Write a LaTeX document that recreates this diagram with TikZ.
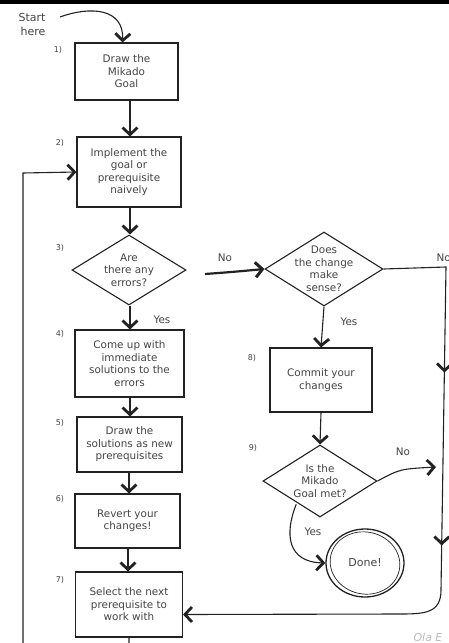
\documentclass[tikz,border=0pt]{standalone}
\usepackage{fontspec}
\setmainfont{DejaVu Sans}
\usetikzlibrary{arrows.meta,shapes.geometric,decorations.markings,calc}
\definecolor{ink}{HTML}{222222}
\definecolor{txt}{HTML}{444444}
\definecolor{faint}{HTML}{BBBBBB}
\begin{document}
\begin{tikzpicture}[x=1pt,y=-1pt,
  barb/.tip={Straight Barb[length=7pt,width=15pt,line width=2.8pt]},
  box/.style={draw=ink, line width=1.1pt, rectangle, align=center, text=txt, font=\fontsize{10.4}{12.5}\selectfont, inner sep=1pt},
  dia/.style={draw=ink, line width=1.1pt, diamond, inner sep=0pt},
  lbl/.style={text=txt, font=\fontsize{10.4}{12.5}\selectfont, align=center},
  num/.style={text=txt, font=\fontsize{8}{9}\selectfont},
  arr/.style={draw=ink, line width=1.1pt, -barb},
  ln/.style={draw=ink, line width=1.1pt}]
\useasboundingbox (0,0) rectangle (449,643);
\fill[black] (0,0) rectangle (449,3.5);

% start
\node[lbl, align=right, font=\fontsize{11}{14}\selectfont] (start) at (32,24) {Start\\here};
\coordinate (st) at (60,17);

% boxes
\node[box, minimum width=103pt, minimum height=57pt] (b1) at (126.5,71.5) {Draw the\\Mikado\\Goal};
\node[box, minimum width=104pt, minimum height=70pt] (b2) at (129,172) {Implement the\\goal or\\prerequisite\\naively};
\node[dia, minimum width=114pt, minimum height=70pt] (d3) at (129,270) {};
\node[lbl] at (d3.center) {Are\\there any\\errors?};
\node[box, minimum width=109pt, minimum height=67pt] (b4) at (129.5,363.5) {Come up with\\immediate\\solutions to the\\errors};
\node[box, minimum width=105pt, minimum height=55pt] (b5) at (129.5,444.5) {Draw the\\solutions as new\\prerequisites};
\node[box, minimum width=105pt, minimum height=54pt] (b6) at (127.5,521) {Revert your\\changes!};
\node[box, minimum width=107pt, minimum height=65pt] (b7) at (129,604.5) {Select the next\\prerequisite to\\work with};

\node[dia, minimum width=118pt, minimum height=74pt] (d2) at (324,269) {};
\node[lbl] at (d2.center) {Does\\the change\\make\\sense?};
\node[box, minimum width=102pt, minimum height=64pt] (b8) at (321,380) {Commit your\\changes};
\node[dia, minimum width=114pt, minimum height=72pt] (d9) at (320,481) {};
\node[lbl] at (d9.center) {Is the\\Mikado\\Goal met?};
\node[draw=ink, line width=1.3pt, ellipse, minimum width=78pt, minimum height=68pt, lbl, font=\fontsize{11}{13}\selectfont] (done) at (365,563) {Done!};
\draw[ink, line width=0.7pt, rotate around={-12:(done.center)}] (done.center) ellipse (35pt and 31pt);

% numbers
\node[num] at (58,50) {1)};
\node[num] at (60,143) {2)};
\node[num] at (60,248) {3)};
\node[num] at (60,334) {4)};
\node[num] at (60,423) {5)};
\node[num] at (60,499) {6)};
\node[num] at (60,580) {7)};
\node[num] at (252,358) {8)};
\node[num] at (253,448) {9)};

% connectors
\draw[arr] (st) .. controls (90,6) and (124,8) .. ([xshift=-4pt]b1.north);
\draw[arr] (b1.south -| 130,0) -- (b2.north -| 130,0);
\draw[arr] (b2.south -| 130,0) -- (d3.north -| 130,0);
\draw[arr] (d3.south -| 130,0) -- (b4.north -| 130,0);
\node[lbl] at (162,320) {Yes};
\draw[arr] (b4.south -| 130,0) -- (b5.north -| 130,0);
\draw[arr] (b5.south -| 129,0) -- (b6.north -| 129,0);
\draw[arr] (b6.south -| 128,0) -- (b7.north -| 128,0);
\draw[arr] (b7.south) -- (129,660) -- (23,660) -- (23,173) -- (b2.west);

\coordinate (nos) at (205,274);
\draw[draw=ink, line width=2.2pt, -{Straight Barb[length=7pt,width=15pt,line width=3pt]}] (nos) .. controls (232,272) .. (d2.west);
\node[lbl] at (225,258) {No};

\draw[arr] (d2.south) -- (b8.north);
\node[lbl] at (349,322) {Yes};
\draw[arr] (b8.south) -- (d9.north);

\node[lbl, anchor=west] at (433,258) {No};
\draw[ln, postaction={decorate}, decoration={markings,
    mark=at position 168pt with {\arrow{barb}},
    mark=at position 341pt with {\arrow{barb}}}, -barb]
  (d2.east) -- (446,267) -- (441,590) .. controls (441,613) and (425,614) .. (400,614) -- ([yshift=-10pt]b7.east);

\coordinate (n9) at (436,467);
\draw[arr] (d9.east) .. controls (400,469) .. (n9);
\node[lbl] at (403,452) {No};

\draw[arr] ([xshift=5pt,yshift=-5pt]d9.south west) .. controls (284,535) and (288,562) .. (done.west);
\node[lbl] at (313,532) {Yes};

\node[text=faint, font=\itshape\fontsize{11}{13}\selectfont, anchor=west] at (410,637) {Ola E};
\end{tikzpicture}
\end{document}
